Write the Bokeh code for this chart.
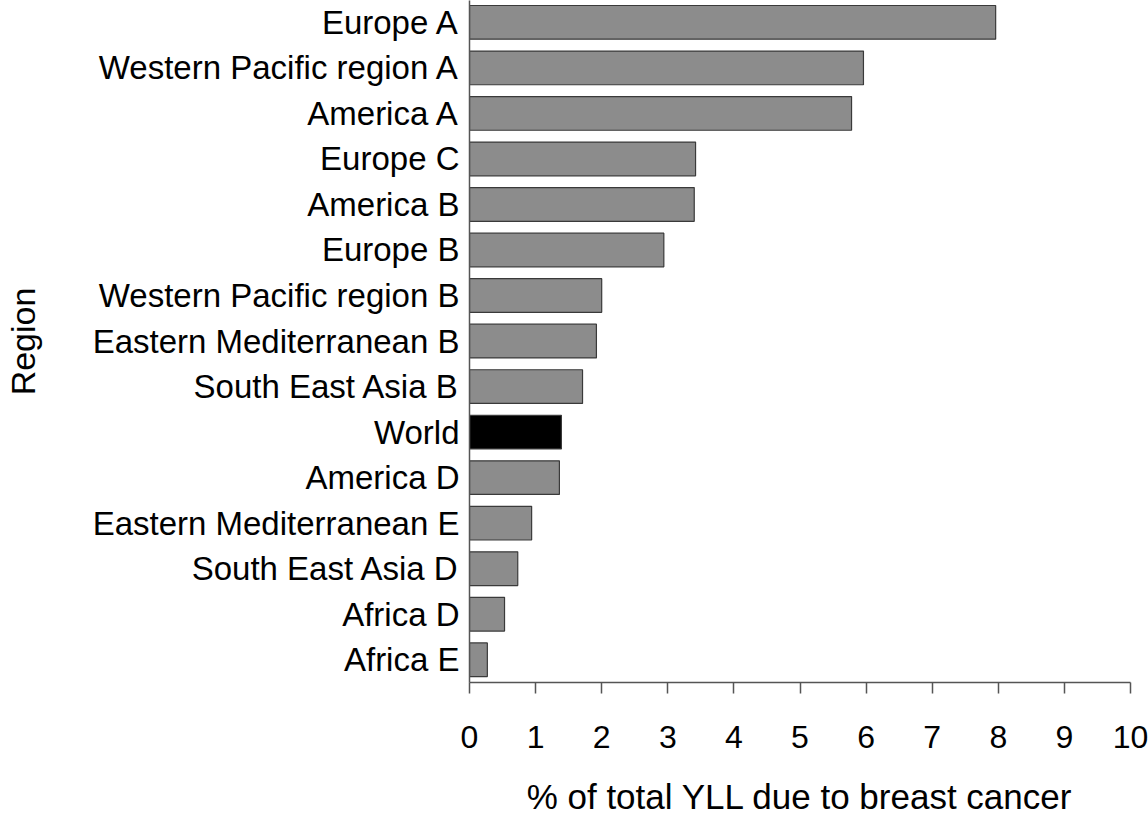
from bokeh.plotting import figure
from bokeh.models import Range1d, FixedTicker, ColumnDataSource
from bokeh.embed import file_html
from bokeh.resources import INLINE

regions = ["Europe A", "Western Pacific region A", "America A", "Europe C",
           "America B", "Europe B", "Western Pacific region B",
           "Eastern Mediterranean B", "South East Asia B", "World",
           "America D", "Eastern Mediterranean E", "South East Asia D",
           "Africa D", "Africa E"]
values = [7.96, 5.96, 5.78, 3.42, 3.40, 2.94, 2.00, 1.92, 1.71, 1.39,
          1.36, 0.94, 0.73, 0.53, 0.27]
x_ticks = [0, 1, 2, 3, 4, 5, 6, 7, 8, 9, 10]
x_title = "% of total YLL due to breast cancer"
y_title = "Region"

positions = list(range(len(regions)))
colors = ["#000000" if r == "World" else "#8c8c8c" for r in regions]

src = ColumnDataSource(dict(y=positions, v=values, c=colors))

FONT = "Liberation Sans"

p = figure(width=1148, height=818, output_backend="svg", toolbar_location=None,
           x_range=Range1d(0, 10), y_range=Range1d(14.5, -0.48),
           min_border_left=469, min_border_right=18, min_border_top=0,
           min_border_bottom=0)
p.hbar(y="y", right="v", left=0, height=0.74, source=src,
       fill_color="c", line_color="#3a3a3a", line_width=1.2)

p.xgrid.visible = False
p.ygrid.visible = False
p.outline_line_color = None

xa = p.xaxis[0]
xa.ticker = FixedTicker(ticks=x_ticks)
xa.minor_tick_line_color = None
xa.major_tick_in = 0
xa.major_tick_out = 11
xa.axis_line_color = "#555555"
xa.major_tick_line_color = "#555555"
xa.axis_line_width = 1.5
xa.major_tick_line_width = 1.5
xa.major_label_text_font = FONT
xa.major_label_text_font_size = "32px"
xa.major_label_text_color = "#000000"
xa.major_label_standoff = 32
xa.axis_label = x_title
xa.axis_label_text_font = FONT
xa.axis_label_text_font_size = "35px"
xa.axis_label_text_font_style = "normal"
xa.axis_label_text_color = "#000000"
xa.axis_label_standoff = 26

ya = p.yaxis[0]
ya.ticker = FixedTicker(ticks=positions)
ya.major_label_overrides = {i: r for i, r in enumerate(regions)}
ya.minor_tick_line_color = None
ya.major_tick_in = 0
ya.major_tick_out = 0
ya.axis_line_color = "#555555"
ya.axis_line_width = 1.5
ya.major_label_text_font = FONT
ya.major_label_text_font_size = "33px"
ya.major_label_text_color = "#000000"
ya.major_label_standoff = 10
ya.axis_label = y_title
ya.axis_label_text_font = FONT
ya.axis_label_text_font_size = "34px"
ya.axis_label_text_font_style = "normal"
ya.axis_label_text_color = "#000000"
ya.axis_label_standoff = 48

open("out.html", "w").write(file_html(p, INLINE))
